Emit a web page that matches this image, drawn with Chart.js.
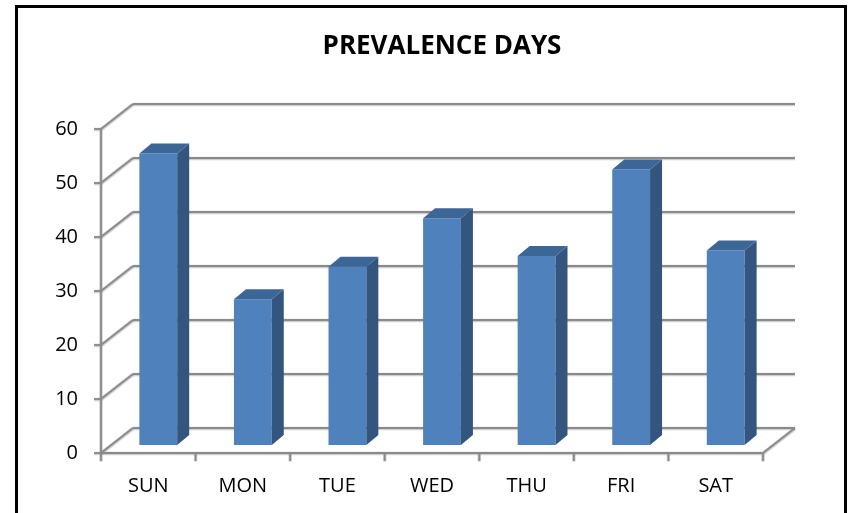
<!DOCTYPE html>
<html><head><meta charset="utf-8">
<script src="https://cdn.jsdelivr.net/npm/chart.js@4.4.1/dist/chart.umd.min.js"></script>
<style>html,body{margin:0;padding:0;background:#fff}#wrap{width:853px;height:513px}</style>
</head><body><div id="wrap"><canvas id="c" width="853" height="513"></canvas></div>
<script>
// ---- data ----
const categories = ['SUN', 'MON', 'TUE', 'WED', 'THU', 'FRI', 'SAT'];
const prevalence = [54, 27, 33, 42, 35, 51, 36];
const yTickValues = [0, 10, 20, 30, 40, 50, 60];
const chartTitle = 'PREVALENCE DAYS';

// ---- style / geometry ----
const FONT = '"Comic Sans MS", "Open Sans", sans-serif';
const FRONT = { dx: -10, dy: 8 };   // front plane relative to bar plane
const BACK = { dx: 22, dy: -17 };   // back wall relative to bar plane
const BAR_DEPTH = { dx: 12, dy: -10 };

function gridLine(ctx, x1, y1, x2, y2) {
  ctx.save();
  ctx.lineCap = 'butt';
  ctx.strokeStyle = 'rgba(150,150,150,0.45)';
  ctx.lineWidth = 3.5;
  ctx.beginPath(); ctx.moveTo(x1, y1 + 0.5); ctx.lineTo(x2, y2 + 0.5); ctx.stroke();
  ctx.strokeStyle = '#8a8a8a';
  ctx.lineWidth = 1.8;
  ctx.beginPath(); ctx.moveTo(x1, y1); ctx.lineTo(x2, y2); ctx.stroke();
  ctx.restore();
}

const threeD = {
  id: 'threeD',
  beforeDraw(chart) {
    const ctx = chart.ctx;
    ctx.save();
    ctx.fillStyle = '#fff';
    ctx.fillRect(0, 0, chart.width, chart.height);
    ctx.strokeStyle = '#000';
    ctx.lineWidth = 3;
    ctx.beginPath();
    ctx.moveTo(16.5, chart.height + 5);
    ctx.lineTo(16.5, 6.5);
    ctx.lineTo(845.5, 6.5);
    ctx.lineTo(845.5, chart.height + 5);
    ctx.stroke();
    ctx.restore();
  },
  beforeDatasetsDraw(chart) {
    const { ctx, chartArea: a, scales: { x, y } } = chart;
    const L = a.left, R = a.right;
    const ticks = y.ticks.map(t => t.value);
    const y0 = y.getPixelForValue(0);
    const yMax = y.getPixelForValue(y.max);
    // back wall gridlines + left wall diagonals
    ticks.forEach(v => {
      const yp = y.getPixelForValue(v);
      gridLine(ctx, L + BACK.dx, yp + BACK.dy, R + BACK.dx, yp + BACK.dy);
      gridLine(ctx, L + FRONT.dx, yp + FRONT.dy, L + BACK.dx, yp + BACK.dy);
    });
    // floor
    gridLine(ctx, L + FRONT.dx, y0 + FRONT.dy, R + FRONT.dx, y0 + FRONT.dy);
    gridLine(ctx, R + FRONT.dx, y0 + FRONT.dy, R + BACK.dx, y0 + BACK.dy);
    // value axis
    gridLine(ctx, L + FRONT.dx, yMax + FRONT.dy, L + FRONT.dx, y0 + FRONT.dy + 1);
    // y tick marks + labels
    ctx.save();
    ctx.fillStyle = '#000';
    ctx.font = '20px ' + FONT;
    ctx.textAlign = 'right';
    ctx.textBaseline = 'middle';
    ticks.forEach(v => {
      const yp = y.getPixelForValue(v) + FRONT.dy;
      gridLine(ctx, L + FRONT.dx - 7, yp, L + FRONT.dx, yp);
      ctx.fillText(String(v), L + FRONT.dx - 23, yp);
    });
    // x tick marks + labels
    const step = x.getPixelForValue(1) - x.getPixelForValue(0);
    ctx.textAlign = 'center';
    for (let i = 0; i <= categories.length; i++) {
      const xb = x.getPixelForValue(0) - step / 2 + i * step + FRONT.dx;
      gridLine(ctx, xb, y0 + FRONT.dy, xb, y0 + FRONT.dy + 8);
    }
    categories.forEach((c, i) => {
      ctx.fillText(c, x.getPixelForValue(i) + FRONT.dx, y0 + FRONT.dy + 33);
    });
    ctx.restore();
  },
  afterDatasetsDraw(chart) {
    const ctx = chart.ctx;
    const meta = chart.getDatasetMeta(0);
    ctx.save();
    meta.data.forEach(bar => {
      const p = bar.getProps(['x', 'y', 'width', 'base'], true);
      const l = p.x - p.width / 2, r = p.x + p.width / 2;
      const t = p.y, b = p.base;
      const dx = BAR_DEPTH.dx, dy = BAR_DEPTH.dy;
      ctx.fillStyle = '#33557e';
      ctx.beginPath();
      ctx.moveTo(r, t); ctx.lineTo(r + dx, t + dy); ctx.lineTo(r + dx, b + dy); ctx.lineTo(r, b);
      ctx.closePath(); ctx.fill();
      ctx.fillStyle = '#3c6698';
      ctx.beginPath();
      ctx.moveTo(l, t); ctx.lineTo(l + dx, t + dy); ctx.lineTo(r + dx, t + dy); ctx.lineTo(r, t);
      ctx.closePath(); ctx.fill();
    });
    ctx.restore();
  }
};

new Chart(document.getElementById('c'), {
  type: 'bar',
  data: {
    labels: categories,
    datasets: [{
      label: 'Prevalence',
      data: prevalence,
      backgroundColor: '#4f81bd',
      borderWidth: 0,
      barPercentage: 0.4,
      categoryPercentage: 1.0
    }]
  },
  options: {
    responsive: false,
    animation: false,
    devicePixelRatio: 1,
    layout: { padding: { top: 20, left: 111, right: 80, bottom: 68 } },
    plugins: {
      legend: { display: false },
      tooltip: { enabled: false },
      title: {
        display: true,
        text: chartTitle,
        color: '#000',
        font: { family: FONT, size: 26, weight: 'bold', lineHeight: 1.2 },
        padding: { top: 11.4, bottom: 58.4 }
      }
    },
    scales: {
      x: { display: false, offset: true },
      y: {
        display: false, min: 0, max: 60,
        afterBuildTicks(scale) { scale.ticks = yTickValues.map(v => ({ value: v })); }
      }
    }
  },
  plugins: [threeD]
});
</script>
</body></html>
